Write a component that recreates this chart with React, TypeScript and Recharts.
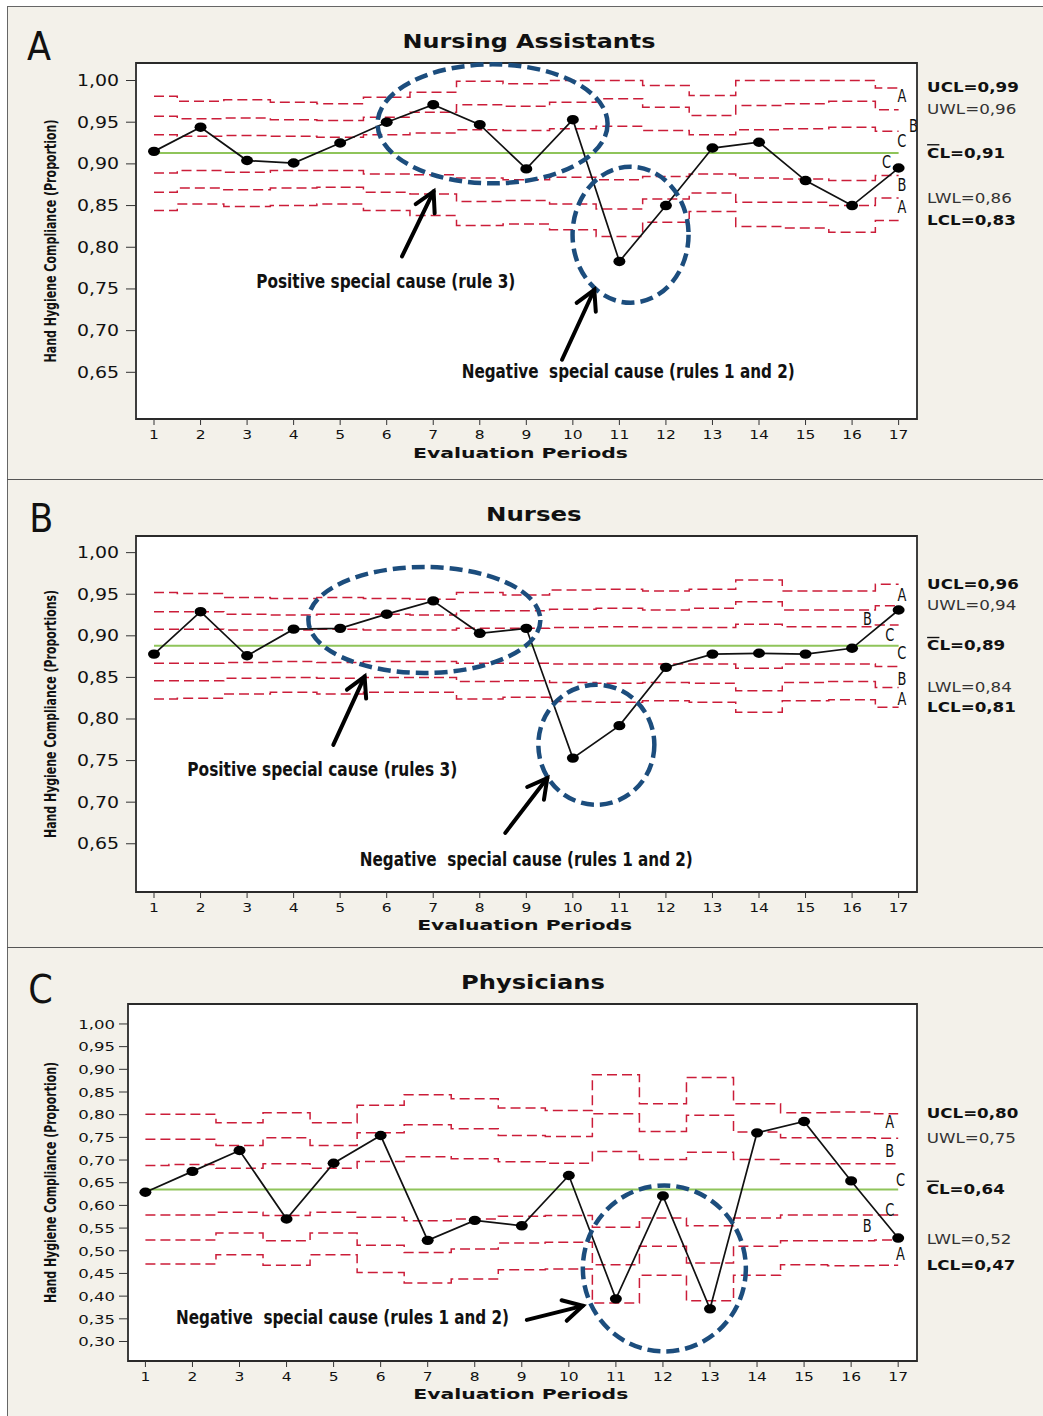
import React from "react";
import {
  LineChart,
  Line,
  XAxis,
  YAxis,
  CartesianGrid,
  ReferenceArea,
  ReferenceLine,
  ReferenceDot,
} from "recharts";

// evaluation periods
const periods = [1, 2, 3, 4, 5, 6, 7, 8, 9, 10, 11, 12, 13, 14, 15, 16, 17];
const yTicksAB = [0.65, 0.7, 0.75, 0.8, 0.85, 0.9, 0.95, 1.0];
const yTicksC = [0.3, 0.35, 0.4, 0.45, 0.5, 0.55, 0.6, 0.65, 0.7, 0.75, 0.8, 0.85, 0.9, 0.95, 1.0];

// A - Nursing Assistants
const naValues = [0.915, 0.944, 0.904, 0.901, 0.925, 0.95, 0.971, 0.947, 0.894, 0.953, 0.783, 0.85, 0.919, 0.926, 0.88, 0.85, 0.895];
const naUcl = [0.981, 0.975, 0.977, 0.974, 0.972, 0.98, 0.986, 0.999, 0.996, 1.0, 1.0, 0.994, 0.982, 1.0, 1.0, 1.0, 0.991];
const naUwl = [0.957, 0.954, 0.955, 0.953, 0.952, 0.956, 0.962, 0.971, 0.969, 0.974, 0.978, 0.968, 0.958, 0.97, 0.972, 0.975, 0.965];
const naU1 = [0.935, 0.933, 0.934, 0.933, 0.932, 0.935, 0.937, 0.941, 0.94, 0.942, 0.945, 0.94, 0.935, 0.941, 0.942, 0.944, 0.939];
const naL1 = [0.889, 0.892, 0.89, 0.892, 0.892, 0.888, 0.887, 0.883, 0.881, 0.884, 0.881, 0.885, 0.888, 0.883, 0.882, 0.88, 0.886];
const naLwl = [0.866, 0.871, 0.869, 0.871, 0.872, 0.866, 0.864, 0.855, 0.856, 0.852, 0.846, 0.858, 0.865, 0.854, 0.854, 0.85, 0.859];
const naLcl = [0.844, 0.852, 0.849, 0.85, 0.852, 0.844, 0.838, 0.826, 0.828, 0.821, 0.813, 0.83, 0.843, 0.825, 0.823, 0.818, 0.832];
const naCl = 0.913;
const naLimitText = ["0,99", "0,96", "0,91", "0,86", "0,83"];

// B - Nurses
const nuValues = [0.878, 0.929, 0.876, 0.908, 0.909, 0.926, 0.942, 0.903, 0.909, 0.753, 0.792, 0.862, 0.878, 0.879, 0.878, 0.885, 0.931];
const nuUcl = [0.952, 0.951, 0.946, 0.945, 0.946, 0.945, 0.944, 0.952, 0.949, 0.955, 0.956, 0.954, 0.956, 0.967, 0.954, 0.954, 0.962];
const nuUwl = [0.929, 0.929, 0.926, 0.925, 0.926, 0.926, 0.925, 0.93, 0.93, 0.932, 0.933, 0.931, 0.933, 0.941, 0.931, 0.931, 0.936];
const nuU1 = [0.908, 0.908, 0.907, 0.907, 0.908, 0.907, 0.907, 0.909, 0.909, 0.91, 0.911, 0.91, 0.91, 0.914, 0.911, 0.911, 0.913];
const nuL1 = [0.867, 0.867, 0.868, 0.869, 0.868, 0.869, 0.869, 0.867, 0.867, 0.866, 0.866, 0.866, 0.866, 0.861, 0.866, 0.866, 0.863];
const nuLwl = [0.846, 0.846, 0.849, 0.85, 0.849, 0.85, 0.85, 0.845, 0.846, 0.844, 0.843, 0.844, 0.843, 0.834, 0.844, 0.845, 0.838];
const nuLcl = [0.824, 0.825, 0.83, 0.832, 0.83, 0.832, 0.832, 0.824, 0.826, 0.821, 0.82, 0.822, 0.82, 0.808, 0.822, 0.823, 0.814];
const nuCl = 0.888;
const nuLimitText = ["0,96", "0,94", "0,89", "0,84", "0,81"];

// C - Physicians
const phValues = [0.629, 0.675, 0.721, 0.57, 0.693, 0.754, 0.523, 0.567, 0.555, 0.666, 0.394, 0.621, 0.372, 0.76, 0.785, 0.654, 0.528];
const phUcl = [0.801, 0.801, 0.782, 0.804, 0.782, 0.821, 0.844, 0.835, 0.815, 0.809, 0.888, 0.824, 0.882, 0.824, 0.804, 0.806, 0.802];
const phUwl = [0.746, 0.746, 0.732, 0.749, 0.732, 0.76, 0.778, 0.769, 0.754, 0.752, 0.802, 0.763, 0.799, 0.762, 0.749, 0.749, 0.748];
const phU1 = [0.688, 0.69, 0.682, 0.692, 0.682, 0.697, 0.707, 0.703, 0.696, 0.693, 0.719, 0.701, 0.717, 0.701, 0.692, 0.692, 0.692];
const phL1 = [0.579, 0.579, 0.585, 0.578, 0.585, 0.574, 0.566, 0.57, 0.576, 0.578, 0.552, 0.572, 0.555, 0.572, 0.579, 0.579, 0.579];
const phLwl = [0.524, 0.524, 0.539, 0.522, 0.539, 0.512, 0.496, 0.504, 0.517, 0.519, 0.469, 0.51, 0.473, 0.51, 0.522, 0.522, 0.524];
const phLcl = [0.471, 0.471, 0.491, 0.468, 0.491, 0.452, 0.429, 0.438, 0.458, 0.46, 0.385, 0.446, 0.39, 0.446, 0.469, 0.467, 0.468];
const phCl = 0.635;
const phLimitText = ["0,80", "0,75", "0,64", "0,52", "0,47"];

// annotation texts
const posText = "Positive special cause (rule 3)";
const posTextB = "Positive special cause (rules 3)";
const negText = "Negative  special cause (rules 1 and 2)";

const SANS = "'DejaVu Sans', Verdana, sans-serif";
const NARROW = "'Liberation Sans Narrow', 'Arial Narrow', 'DejaVu Sans Condensed', sans-serif";
const RED = "#cb1d39";
const BLUE = "#1c4d7d";
const GREEN = "#8fc45a";
const BG = "#f3f1ea";

const fmt = (v: number) => v.toFixed(2).replace(".", ",");

type Ell = { x: number; y: number; rx: number; ry: number };
type Arrow = { x: number; y: number; dx: number; dy: number };
type Note = { x: number; y: number; text: string; w: number };
type Zone = { x: number; y: number; t: string };

interface PanelCfg {
  letter: string;
  title: string;
  yLabel: string;
  values: number[];
  ucl: number[];
  uwl: number[];
  u1: number[];
  l1: number[];
  lwl: number[];
  lcl: number[];
  cl: number;
  limitText: string[];
  ellipses: Ell[];
  arrows: Arrow[];
  notes: Note[];
  zones: Zone[];
  // layout
  top: number;
  height: number;
  mTop: number;
  xAxisH: number;
  yAxisW: number;
  xDomain: [number, number];
  yDomain: [number, number];
  yTicks: number[];
  yTickFs: number;
  yTickSx: number;
  yTickSize: number;
  yTickMargin: number;
  titleX: number;
  titleY: number;
  titleW: number;
  letterX: number;
  letterY: number;
  xLabelX: number;
  xLabelY: number;
  yLabelW: number;
}

const panels: PanelCfg[] = [
  {
    letter: "A",
    title: "Nursing Assistants",
    yLabel: "Hand Hygiene Compliance (Proportion)",
    values: naValues, ucl: naUcl, uwl: naUwl, u1: naU1, l1: naL1, lwl: naLwl, lcl: naLcl,
    cl: naCl,
    limitText: naLimitText,
    ellipses: [
      { x: 8.275, y: 0.948, rx: 115, ry: 59.5 },
      { x: 11.24, y: 0.815, rx: 58, ry: 68 },
    ],
    arrows: [
      { x: 7.008, y: 0.867, dx: -31.6, dy: 65 },
      { x: 10.461, y: 0.749, dx: -32.3, dy: 70 },
    ],
    notes: [
      { x: 5.98, y: 0.759, text: posText, w: 259 },
      { x: 11.19, y: 0.652, text: negText, w: 333 },
    ],
    zones: [
      { x: 17.07, y: 0.981, t: "A" },
      { x: 17.32, y: 0.945, t: "B" },
      { x: 17.07, y: 0.928, t: "C" },
      { x: 16.74, y: 0.902, t: "C" },
      { x: 17.07, y: 0.875, t: "B" },
      { x: 17.07, y: 0.848, t: "A" },
    ],
    top: 0, height: 480, mTop: 63, xAxisH: 61, yAxisW: 136,
    xDomain: [0.613, 17.395], yDomain: [0.594, 1.021], yTicks: yTicksAB,
    yTickFs: 15.5, yTickSx: 1.22, yTickSize: 10, yTickMargin: 7,
    titleX: 529, titleY: 48.3, titleW: 253,
    letterX: 27, letterY: 60,
    xLabelX: 520.5, xLabelY: 458.3, yLabelW: 243,
  },
  {
    letter: "B",
    title: "Nurses",
    yLabel: "Hand Hygiene Compliance (Proportions)",
    values: nuValues, ucl: nuUcl, uwl: nuUwl, u1: nuU1, l1: nuL1, lwl: nuLwl, lcl: nuLcl,
    cl: nuCl,
    limitText: nuLimitText,
    ellipses: [
      { x: 6.81, y: 0.919, rx: 116, ry: 53 },
      { x: 10.505, y: 0.769, rx: 58, ry: 60 },
    ],
    arrows: [
      { x: 5.525, y: 0.851, dx: -31.3, dy: 68.3 },
      { x: 9.451, y: 0.729, dx: -42, dy: 54.8 },
    ],
    notes: [
      { x: 4.616, y: 0.74, text: posTextB, w: 270 },
      { x: 9.0, y: 0.632, text: negText, w: 333 },
    ],
    zones: [
      { x: 17.07, y: 0.949, t: "A" },
      { x: 16.33, y: 0.92, t: "B" },
      { x: 16.81, y: 0.901, t: "C" },
      { x: 17.07, y: 0.879, t: "C" },
      { x: 17.07, y: 0.848, t: "B" },
      { x: 17.07, y: 0.824, t: "A" },
    ],
    top: 480, height: 468, mTop: 56, xAxisH: 56, yAxisW: 136,
    xDomain: [0.613, 17.395], yDomain: [0.592, 1.02], yTicks: yTicksAB,
    yTickFs: 15.5, yTickSx: 1.22, yTickSize: 10, yTickMargin: 7,
    titleX: 533.8, titleY: 40.7, titleW: 95.7,
    letterX: 29.3, letterY: 51.7,
    xLabelX: 524.7, xLabelY: 450, yLabelW: 248,
  },
  {
    letter: "C",
    title: "Physicians",
    yLabel: "Hand Hygiene Compliance (Proportion)",
    values: phValues, ucl: phUcl, uwl: phUwl, u1: phU1, l1: phL1, lwl: phLwl, lcl: phLcl,
    cl: phCl,
    limitText: phLimitText,
    ellipses: [{ x: 12.03, y: 0.461, rx: 81.5, ry: 83 }],
    arrows: [{ x: 10.298, y: 0.3786, dx: -56, dy: 14 }],
    notes: [{ x: 5.19, y: 0.355, text: negText, w: 333 }],
    zones: [
      { x: 16.82, y: 0.785, t: "A" },
      { x: 16.82, y: 0.721, t: "B" },
      { x: 17.05, y: 0.657, t: "C" },
      { x: 16.82, y: 0.59, t: "C" },
      { x: 16.34, y: 0.554, t: "B" },
      { x: 17.05, y: 0.493, t: "A" },
    ],
    top: 948, height: 468, mTop: 56, xAxisH: 55, yAxisW: 128,
    xDomain: [0.63, 17.4], yDomain: [0.257, 1.044], yTicks: yTicksC,
    yTickFs: 12.7, yTickSx: 1.3, yTickSize: 9, yTickMargin: 4,
    titleX: 533, titleY: 41.3, titleW: 144,
    letterX: 28.3, letterY: 55.3,
    xLabelX: 520.8, xLabelY: 451.3, yLabelW: 241,
  },
];

const XTick = (props: any) => {
  const { x, y, payload } = props;
  return (
    <text
      transform={`translate(${x} ${y}) scale(1.22 1)`}
      textAnchor="middle"
      dy="0.71em"
      fontFamily={SANS}
      fontSize={12.7}
      fill="#111"
    >
      {payload.value}
    </text>
  );
};

const makeYTick = (fs: number, sx: number) => (props: any) => {
  const { x, y, payload } = props;
  return (
    <text
      transform={`translate(${x} ${y}) scale(${sx} 1)`}
      textAnchor="end"
      dominantBaseline="central"
      fontFamily={SANS}
      fontSize={fs}
      fill="#111"
    >
      {fmt(payload.value)}
    </text>
  );
};

const ellipseShape = (rx: number, ry: number) => (p: any) => (
  <ellipse
    cx={p.cx}
    cy={p.cy}
    rx={rx}
    ry={ry}
    fill="none"
    stroke={BLUE}
    strokeWidth={4.5}
    strokeDasharray="13 6"
  />
);

const arrowShape = (dx: number, dy: number) => (p: any) => {
  const tx = p.cx;
  const ty = p.cy;
  const ang = Math.atan2(dy, dx);
  const L = 22;
  const a = 0.5;
  const w1x = tx + L * Math.cos(ang + a);
  const w1y = ty + L * Math.sin(ang + a);
  const w2x = tx + L * Math.cos(ang - a);
  const w2y = ty + L * Math.sin(ang - a);
  return (
    <g stroke="#000" strokeWidth={4} fill="none" strokeLinecap="round" strokeLinejoin="miter">
      <line x1={tx + dx} y1={ty + dy} x2={tx} y2={ty} />
      <polyline points={`${w1x},${w1y} ${tx},${ty} ${w2x},${w2y}`} />
    </g>
  );
};

const noteShape = (text: string, w: number) => (p: any) => (
  <text
    x={p.cx}
    y={p.cy}
    textAnchor="middle"
    dominantBaseline="central"
    fontFamily={NARROW}
    fontWeight={700}
    fontSize={20}
    fill="#111"
    textLength={w}
    lengthAdjust="spacingAndGlyphs"
    style={{ whiteSpace: "pre" }}
  >
    {text}
  </text>
);

const zoneShape = (t: string) => (p: any) => (
  <text
    transform={`translate(${p.cx} ${p.cy}) scale(0.8 1)`}
    textAnchor="middle"
    dominantBaseline="central"
    fontFamily={NARROW}
    fontSize={18}
    fill="#111"
  >
    {t}
  </text>
);

const limitShape = (name: string, val: string, bold: boolean, bar: boolean) => (p: any) => (
  <text
    transform={`translate(${p.cx + 28.5} ${p.cy}) scale(1.22 1)`}
    dominantBaseline="central"
    fontFamily={SANS}
    fontSize={13.7}
    fontWeight={bold ? 700 : 400}
    fill={bold ? "#111" : "#333"}
  >
    {bar ? (
      <>
        <tspan style={{ textDecoration: "overline" }}>C</tspan>
        {`L=${val}`}
      </>
    ) : (
      `${name}=${val}`
    )}
  </text>
);

const dotShape = (p: any) => (
  <ellipse key={`d${p.index}`} cx={p.cx} cy={p.cy} rx={6} ry={4.7} fill="#000" />
);

function Panel({ c }: { c: PanelCfg }) {
  const data = periods.map((p, i) => ({
    p,
    v: c.values[i],
    ucl: c.ucl[i],
    uwl: c.uwl[i],
    u1: c.u1[i],
    l1: c.l1[i],
    lwl: c.lwl[i],
    lcl: c.lcl[i],
  }));
  const last = periods.length - 1;
  const limits = [
    { name: "UCL", y: c.ucl[last], bold: true, bar: false },
    { name: "UWL", y: c.uwl[last], bold: false, bar: false },
    { name: "CL", y: c.cl, bold: true, bar: true },
    { name: "LWL", y: c.lwl[last], bold: false, bar: false },
    { name: "LCL", y: c.lcl[last], bold: true, bar: false },
  ];
  const plotH = c.height - c.mTop - c.xAxisH;
  const yLabelCy = c.mTop + plotH / 2;
  const limitKeys = ["ucl", "uwl", "u1", "l1", "lwl", "lcl"];

  return (
    <div style={{ position: "absolute", left: 0, top: c.top, width: 1043, height: c.height }}>
      <LineChart
        width={1043}
        height={c.height}
        data={data}
        margin={{ top: c.mTop, right: 126, bottom: 0, left: 0 }}
      >
        <CartesianGrid horizontal={false} vertical={false} fill="#fff" />
        <XAxis
          dataKey="p"
          type="number"
          domain={c.xDomain}
          allowDataOverflow
          ticks={periods}
          interval={0}
          height={c.xAxisH}
          axisLine={false}
          tickSize={6}
          tickMargin={5}
          tickLine={{ stroke: "#333" }}
          tick={XTick}
        />
        <YAxis
          type="number"
          domain={c.yDomain}
          allowDataOverflow
          ticks={c.yTicks}
          interval={0}
          width={c.yAxisW}
          axisLine={false}
          tickSize={c.yTickSize}
          tickMargin={c.yTickMargin}
          tickLine={{ stroke: "#333" }}
          tick={makeYTick(c.yTickFs, c.yTickSx)}
        />
        <ReferenceArea
          x1={c.xDomain[0]}
          x2={c.xDomain[1]}
          y1={c.yDomain[0]}
          y2={c.yDomain[1]}
          fill="none"
          fillOpacity={0}
          stroke="#2a2a2a"
          strokeWidth={1.8}
          ifOverflow="visible"
        />
        <ReferenceLine
          segment={[
            { x: periods[0], y: c.cl },
            { x: periods[last], y: c.cl },
          ]}
          stroke={GREEN}
          strokeWidth={2}
        />
        {limitKeys.map((k) => (
          <Line
            key={k}
            dataKey={k}
            type="step"
            stroke={RED}
            strokeWidth={1.5}
            strokeDasharray="10 5"
            dot={false}
            activeDot={false}
            isAnimationActive={false}
          />
        ))}
        <Line
          dataKey="v"
          type="linear"
          stroke="#111"
          strokeWidth={1.7}
          dot={dotShape}
          activeDot={false}
          isAnimationActive={false}
        />
        {c.ellipses.map((e, i) => (
          <ReferenceDot key={`e${i}`} x={e.x} y={e.y} r={0} shape={ellipseShape(e.rx, e.ry)} />
        ))}
        {c.arrows.map((a, i) => (
          <ReferenceDot key={`a${i}`} x={a.x} y={a.y} r={0} shape={arrowShape(a.dx, a.dy)} />
        ))}
        {c.notes.map((n, i) => (
          <ReferenceDot key={`n${i}`} x={n.x} y={n.y} r={0} shape={noteShape(n.text, n.w)} />
        ))}
        {c.zones.map((z, i) => (
          <ReferenceDot key={`z${i}`} x={z.x} y={z.y} r={0} shape={zoneShape(z.t)} />
        ))}
        {limits.map((l, i) => (
          <ReferenceDot
            key={`l${i}`}
            x={periods[last]}
            y={l.y}
            r={0}
            shape={limitShape(l.name, c.limitText[i], l.bold, l.bar)}
          />
        ))}
      </LineChart>
      <svg
        width={1043}
        height={c.height}
        style={{ position: "absolute", left: 0, top: 0, pointerEvents: "none" }}
      >
        <text x={c.letterX} y={c.letterY} fontFamily={NARROW} fontSize={39} fill="#111">
          {c.letter}
        </text>
        <text
          x={c.titleX}
          y={c.titleY}
          textAnchor="middle"
          fontFamily={SANS}
          fontWeight={700}
          fontSize={19.2}
          fill="#111"
          textLength={c.titleW}
          lengthAdjust="spacingAndGlyphs"
        >
          {c.title}
        </text>
        <text
          x={c.xLabelX}
          y={c.xLabelY}
          textAnchor="middle"
          fontFamily={SANS}
          fontWeight={700}
          fontSize={14.6}
          fill="#111"
          textLength={215}
          lengthAdjust="spacingAndGlyphs"
        >
          Evaluation Periods
        </text>
        <text
          transform={`translate(51 ${yLabelCy}) rotate(-90)`}
          textAnchor="middle"
          dominantBaseline="central"
          fontFamily={NARROW}
          fontWeight={700}
          fontSize={15}
          fill="#111"
          textLength={c.yLabelW}
          lengthAdjust="spacingAndGlyphs"
        >
          {c.yLabel}
        </text>
      </svg>
    </div>
  );
}

export default function App() {
  return (
    <div style={{ position: "relative", width: 1043, height: 1416, background: "#fff", overflow: "hidden" }}>
      <style>{"body{margin:0;}"}</style>
      <div
        style={{
          position: "absolute",
          left: 7,
          top: 6,
          width: 1043,
          height: 1416,
          background: BG,
          borderLeft: "1.5px solid #666",
          borderTop: "1.5px solid #666",
        }}
      />
      {panels.map((c) => (
        <Panel key={c.letter} c={c} />
      ))}
      <div style={{ position: "absolute", left: 7, top: 479, width: 1036, height: 0, borderTop: "1.5px solid #555" }} />
      <div style={{ position: "absolute", left: 7, top: 947, width: 1036, height: 0, borderTop: "1.5px solid #555" }} />
    </div>
  );
}
